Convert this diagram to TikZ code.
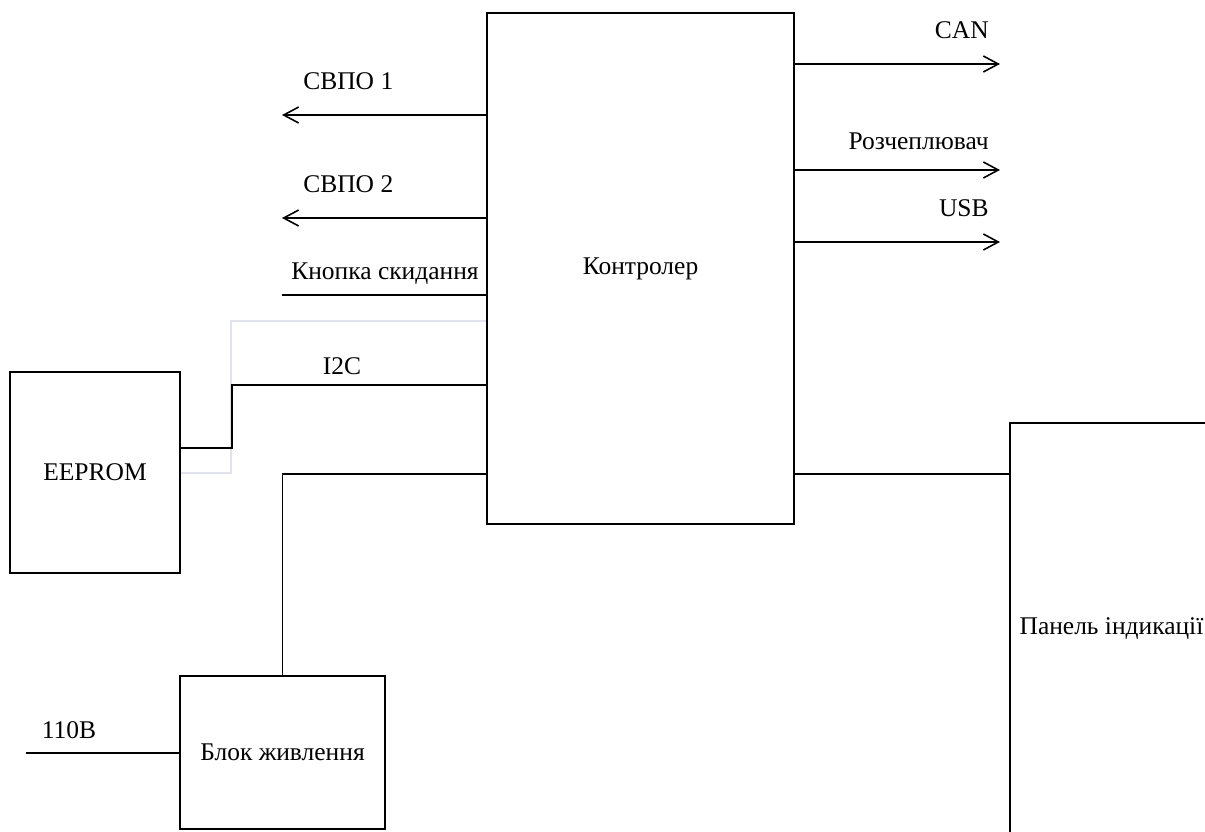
\documentclass[tikz,border=0pt]{standalone}
\usepackage{fontspec}
\setmainfont{Liberation Serif}
\usepackage{xcolor}
\usetikzlibrary{positioning}
\usetikzlibrary{arrows.meta}
\definecolor{wirelight}{RGB}{224,227,238}

\tikzset{
  block/.style={draw, line width=0.9pt, inner sep=0pt, align=center},
  wire/.style={line width=0.9pt},
  sig/.style={line width=0.9pt, -{Straight Barb[length=0.3cm, width=0.32cm, line width=0.9pt]}},
  lbl/.style={inner sep=0pt}
}

\begin{document}
\begin{tikzpicture}[font=\fontsize{14.5}{17}\selectfont]

\useasboundingbox (0,0) rectangle (24.1,-16.62);
\clip (0,0) rectangle (24.1,-16.62);

% blocks
{
\node[block, minimum width=6.14cm, minimum height=10.22cm] (ctrl) at (12.81,-5.37) {Контролер};
\node[block, minimum width=3.4cm, minimum height=4.02cm] (eeprom) at (1.9,-9.45) {EEPROM};
\node[block, minimum width=4.1cm, minimum height=3.06cm] (power) at (5.65,-15.05) {Блок живлення};
\node[block, minimum width=4.06cm, minimum height=8.24cm] (panel) at (22.23,-12.58) {Панель індикації};
}

% free ends
{
\coordinate (svpo1) at (5.64,-2.3);
\coordinate (svpo2) at (5.64,-4.36);
\coordinate (reset) at (5.64,-5.9);
\coordinate (can) at (20.0,-1.28);
\coordinate (trip) at (20.0,-3.4);
\coordinate (usb) at (20.0,-4.84);
\coordinate (mains) at (0.52,-15.06);
\coordinate (i2cbend) at (4.64,-7.7);
\coordinate (greybend) at (4.62,-6.42);
\coordinate (pwrbus) at (5.65,-9.48);
}

%arrows
\draw[sig] (ctrl.west |- svpo1) -- (svpo1);
\draw[sig] (ctrl.west |- svpo2) -- (svpo2);
\draw[wire] (ctrl.west |- reset) -- (reset);

\draw[sig] (ctrl.east |- can) -- (can);
\draw[sig] (ctrl.east |- trip) -- (trip);
\draw[sig] (ctrl.east |- usb) -- (usb);

%lines
\draw[wirelight, line width=0.7pt] (ctrl.west |- greybend) -- (greybend) |- (eeprom.east |- 0,-9.46);
\draw[wire] (ctrl.west |- i2cbend) -- (i2cbend) |- (eeprom.east |- 0,-8.96);
\draw[wire] (power.north) |- (ctrl.west |- pwrbus);
\draw[wire] (mains) -- (power.west |- mains);
\draw[wire] (ctrl.east |- pwrbus) -- (panel.west |- pwrbus);

% labels
{
\node[lbl, anchor=west] (lsvpo1) at (6.06,-1.62) {СВПО 1};
\node[lbl, anchor=west] (lsvpo2) at (6.06,-3.68) {СВПО 2};
\node[lbl, anchor=west] (lreset) at (5.82,-5.48) {Кнопка скидання};
\node[lbl] (li2c) at (6.84,-7.32) {I2C};

\node[lbl, anchor=east] (lcan) at (19.78,-0.6) {CAN};
\node[lbl, anchor=east] (ltrip) at (19.78,-2.82) {Розчеплювач};
\node[lbl, anchor=east] (lusb) at (19.78,-4.16) {USB};

\node[lbl] (lmains) at (1.38,-14.6) {110В};
}

\end{tikzpicture}
\end{document}
